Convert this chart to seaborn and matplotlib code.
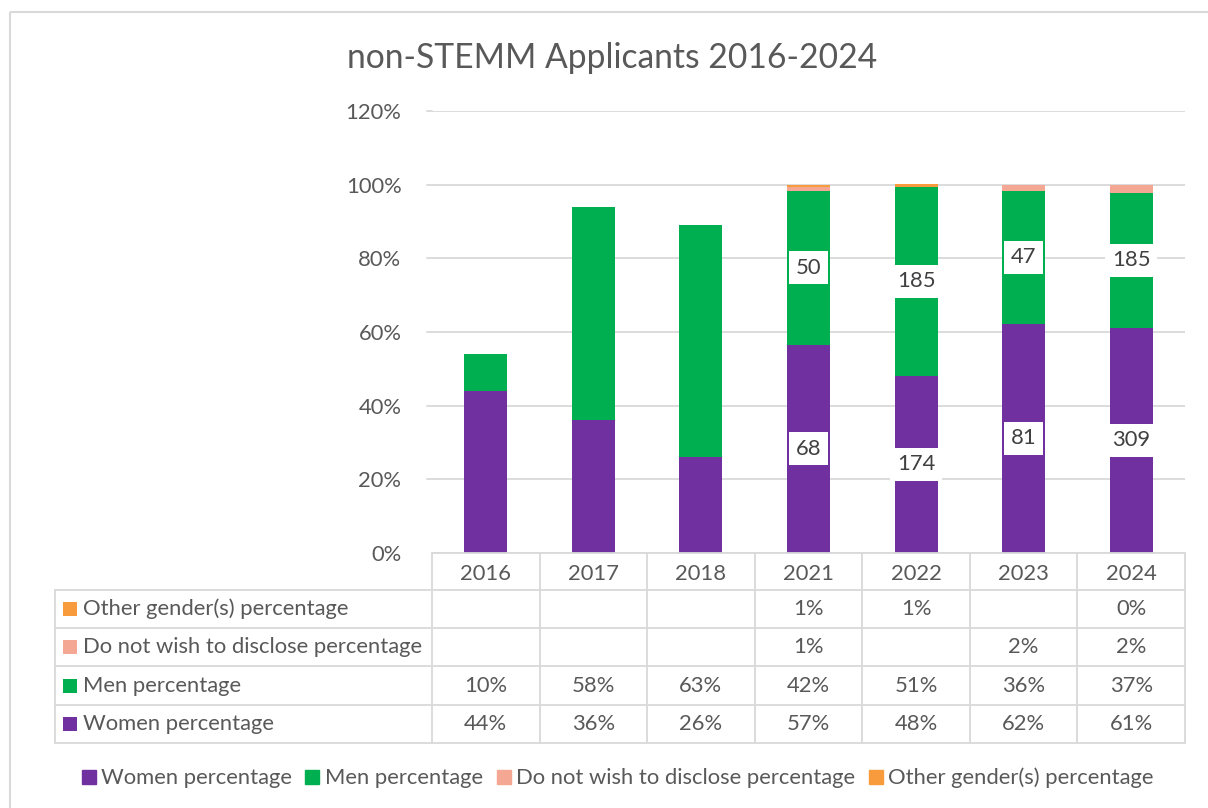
import numpy as np
import pandas as pd
import matplotlib
matplotlib.use("Agg")
import matplotlib.pyplot as plt
from matplotlib.lines import Line2D
from matplotlib.patches import Rectangle
import seaborn as sns

# ---------------- data ----------------
years = ["2016", "2017", "2018", "2021", "2022", "2023", "2024"]
women_pct = [0.44, 0.36, 0.26, 0.566, 0.481, 0.622, 0.611]
men_pct = [0.10, 0.58, 0.63, 0.418, 0.514, 0.362, 0.367]
dnd_pct = [np.nan, np.nan, np.nan, 0.009, np.nan, 0.016, 0.020]
other_pct = [np.nan, np.nan, np.nan, 0.007, 0.006, np.nan, 0.002]
women_counts = [None, None, None, 68, 174, 81, 309]
men_counts = [None, None, None, 50, 185, 47, 185]

series_names = ["Women percentage", "Men percentage",
                "Do not wish to disclose percentage", "Other gender(s) percentage"]
series_vals = [women_pct, men_pct, dnd_pct, other_pct]
colors = ["#7030A0", "#00B050", "#F4A893", "#F79B3C"]
title = "non-STEMM Applicants 2016-2024"
yticks = [0, 0.2, 0.4, 0.6, 0.8, 1.0, 1.2]

# ---------------- style ----------------
sns.set_theme(style="white")
plt.rcParams["font.family"] = ["Lato", "DejaVu Sans"]
TXT = "#595959"
GRID = "#D9D9D9"
FS = 15.8

W, H = 1208, 808
fig = plt.figure(figsize=(W / 100, H / 100), dpi=100)

AX_L, AX_R, AX_T, AX_B = 432, 1185, 111, 553
ax = fig.add_axes([AX_L / W, 1 - AX_B / H, (AX_R - AX_L) / W, (AX_B - AX_T) / H])

# cumulative stacks
arr = np.array([[0 if np.isnan(v) else v for v in s] for s in series_vals])
cum = np.cumsum(arr, axis=0)

# draw from top stack down so lower segments overlay upper ones
for k in range(len(series_vals) - 1, -1, -1):
    tops = [cum[k][i] if not np.isnan(series_vals[k][i]) else np.nan for i in range(len(years))]
    df = pd.DataFrame({"year": years, "top": tops}).dropna()
    sns.barplot(data=df, x="year", y="top", order=years, color=colors[k],
                saturation=1, width=0.4, linewidth=0, errorbar=None, ax=ax, zorder=2)

ax.set_xlim(-0.5, len(years) - 0.5)
ax.set_ylim(0, 1.2)
ax.set_yticks(yticks)
ax.set_yticklabels([f"{int(round(t * 100))}%" for t in yticks], color=TXT, fontsize=FS)
ax.tick_params(axis="y", length=0, pad=22)
ax.tick_params(axis="x", length=0, pad=8, labelsize=FS, labelcolor=TXT)
ax.set_xlabel("")
ax.set_ylabel("")
for sp in ax.spines.values():
    sp.set_visible(False)
ax.yaxis.grid(True, color=GRID, lw=1.3, zorder=0)
ax.set_axisbelow(True)

# data labels (counts) centered in segments
for i in range(len(years)):
    if women_counts[i] is not None:
        ax.text(i, arr[0][i] / 2, str(women_counts[i]), ha="center", va="center",
                fontsize=FS, color="#404040", zorder=5,
                bbox=dict(boxstyle="square,pad=0.3", fc="white", ec="none"))
    if men_counts[i] is not None:
        ax.text(i, arr[0][i] + arr[1][i] / 2, str(men_counts[i]), ha="center", va="center",
                fontsize=FS, color="#404040", zorder=5,
                bbox=dict(boxstyle="square,pad=0.3", fc="white", ec="none"))

# ---------------- overlay: table, title, frame ----------------
ov = fig.add_axes([0, 0, 1, 1], facecolor="none")
ov.set_xlim(0, W)
ov.set_ylim(H, 0)
ov.axis("off")

ov.add_patch(Rectangle((10, 12), W + 20, H + 20, fill=False, ec=GRID, lw=1.5))
ov.text(612, 58, title, ha="center", va="center", fontsize=24.2, color=TXT)

col_w = (AX_R - AX_L) / len(years)
col_x = [AX_L + k * col_w for k in range(len(years) + 1)]
TAB_L = 55
row_y = [590, 628, 666, 705, 743]
lw = 1.3
# tick stubs left of gridlines
for t in yticks[1:]:
    yy = AX_B - (AX_B - AX_T) * t / 1.2
    ov.plot([427, AX_L], [yy, yy], color=GRID, lw=lw)
ov.plot([AX_L, AX_R], [AX_B, AX_B], color=GRID, lw=lw)
for y in row_y:
    ov.plot([TAB_L, AX_R], [y, y], color=GRID, lw=lw)
for x in col_x:
    ov.plot([x, x], [AX_B, row_y[-1]], color=GRID, lw=lw)
ov.plot([TAB_L, TAB_L], [row_y[0], row_y[-1]], color=GRID, lw=lw)

table_order = [3, 2, 1, 0]
for r, k in enumerate(table_order):
    yc = (row_y[r] + row_y[r + 1]) / 2
    ov.add_patch(Rectangle((63, yc - 7), 14, 14, fc=colors[k], ec="none"))
    ov.text(83, yc, series_names[k], ha="left", va="center", fontsize=FS, color=TXT)
    for i in range(len(years)):
        v = series_vals[k][i]
        if not np.isnan(v):
            ov.text((col_x[i] + col_x[i + 1]) / 2, yc, f"{int(v * 100 + 0.5)}%",
                    ha="center", va="center", fontsize=FS, color=TXT)

handles = [Line2D([], [], marker="s", linestyle="none", markersize=10,
                  markerfacecolor=c, markeredgecolor=c) for c in colors]
fig.legend(handles, series_names, loc="center", bbox_to_anchor=(617 / W, 1 - 778 / H),
           ncol=4, frameon=False, fontsize=FS, labelcolor=TXT,
           handlelength=0.7, handletextpad=0.2, columnspacing=0.6)

fig.savefig("out.png", dpi=100)
